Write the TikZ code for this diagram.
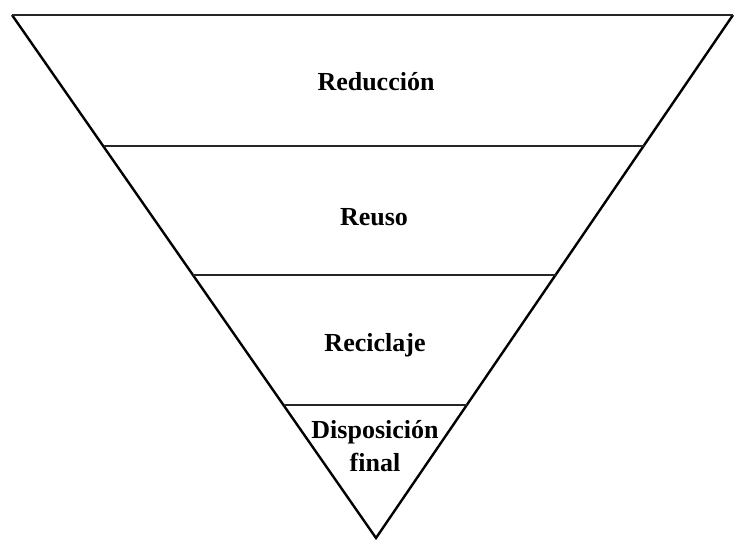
\documentclass[tikz,border=0pt]{standalone}
\usepackage{fontspec}
\setmainfont{Liberation Serif}
\begin{document}
\begin{tikzpicture}[x=1pt,y=-1pt,
  edge/.style={line width=2.4pt,line join=miter},
  band/.style={line width=2.8pt,black!85,line cap=butt},
  lbl/.style={font=\fontsize{26}{33}\selectfont\bfseries,align=center,inner sep=0pt}]
\useasboundingbox (0,0) rectangle (734,540);
\coordinate (tl) at (12,15);
\coordinate (tr) at (733,15);
\coordinate (ap) at (376,538);
\coordinate (l1) at (104,146);
\coordinate (r1) at (645,146);
\coordinate (l2) at (193,275);
\coordinate (r2) at (556,275);
\coordinate (l3) at (284,405);
\coordinate (r3) at (467,405);
\draw[edge] (tr) -- (ap) -- (tl);
\draw[band] (tl) -- (tr);
\draw[band] (l1) -- (r1);
\draw[band] (l2) -- (r2);
\draw[band] (l3) -- (r3);
\node[lbl] (n1) at (376,82) {Reducción};
\node[lbl] (n2) at (374,217) {Reuso};
\node[lbl] (n3) at (375,345) {Reciclaje};
\node[lbl] (n4) at (375,446) {Disposición\\final};
\end{tikzpicture}
\end{document}
